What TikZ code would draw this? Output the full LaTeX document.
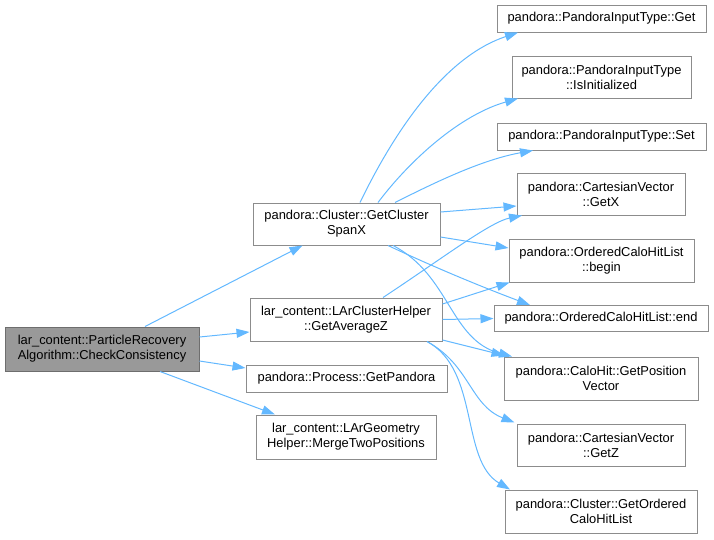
\documentclass[tikz,border=0pt]{standalone}
\usepackage{fontspec}
\setmainfont{Liberation Sans}
\usetikzlibrary{arrows.meta,calc}
\definecolor{edgec}{RGB}{99,184,255}
\definecolor{boxc}{RGB}{140,140,140}
\definecolor{rootc}{RGB}{153,153,153}
\definecolor{rootb}{RGB}{110,110,110}
\tikzset{
  box/.style={draw=boxc, line width=1pt, fill=white, align=center, inner sep=0pt,
    font=\fontsize{12.9}{15}\selectfont},
  rootbox/.style={box, fill=rootc, draw=rootb},
  edge/.style={draw=edgec, line width=1pt, -{Triangle[length=13pt,width=9pt]}}
}
\begin{document}
\begin{tikzpicture}[x=1pt,y=-1pt]
\useasboundingbox (0,0) rectangle (714,539);
% left and middle
\node[rootbox, minimum width=194pt, minimum height=44pt] (root) at (102,349) {lar\_content::ParticleRecovery\\Algorithm::CheckConsistency};
\node[box, minimum width=187pt, minimum height=42pt] (span) at (346.5,224) {pandora::Cluster::GetCluster\\SpanX};
\node[box, minimum width=192pt, minimum height=43pt] (avgz) at (346,319.5) {lar\_content::LArClusterHelper\\::GetAverageZ};
\node[box, minimum width=201pt, minimum height=27pt] (pand) at (346.5,378.5) {pandora::Process::GetPandora};
\node[box, minimum width=180pt, minimum height=44pt] (merge) at (346,437) {lar\_content::LArGeometry\\Helper::MergeTwoPositions};
% right column
\node[box, minimum width=209pt, minimum height=27pt] (get) at (601.5,18.5) {pandora::PandoraInputType::Get};
\node[box, minimum width=179pt, minimum height=42pt] (isinit) at (601.5,77) {pandora::PandoraInputType\\::IsInitialized};
\node[box, minimum width=209pt, minimum height=27pt] (set) at (601.5,136.5) {pandora::PandoraInputType::Set};
\node[box, minimum width=168pt, minimum height=42pt] (getx) at (601,194) {pandora::CartesianVector\\::GetX};
\node[box, minimum width=185pt, minimum height=43pt] (begin) at (601.5,260.5) {pandora::OrderedCaloHitList\\::begin};
\node[box, minimum width=214pt, minimum height=26pt] (end) at (601,318.5) {pandora::OrderedCaloHitList::end};
\node[box, minimum width=194pt, minimum height=43pt] (gpv) at (601,378.5) {pandora::CaloHit::GetPosition\\Vector};
\node[box, minimum width=168pt, minimum height=42pt] (getz) at (601,445) {pandora::CartesianVector\\::GetZ};
\node[box, minimum width=192pt, minimum height=43pt] (gochl) at (601,511.5) {pandora::Cluster::GetOrdered\\CaloHitList};
% root edges
\draw[edge] ($(root.north)+(43,0)$) -- ($(span.south)+(-44,0)$);
\draw[edge] ($(root.east)+(0,-12)$) -- ($(avgz.west)+(0,12.5)$);
\draw[edge] ($(root.east)+(0,12)$) -- ($(pand.west)+(0,-10.5)$);
\draw[edge] ($(root.south)+(58,0)$) -- ($(merge.north)+(-71,0)$);
% span edges
\draw[edge] ($(span.north)+(13.5,0)$) .. controls (400,120) and (450,55) .. ($(get.south)+(-83.5,0)$);
\draw[edge] ($(span.north)+(31.5,0)$) .. controls (410,160) and (460,115) .. ($(isinit.south)+(-83.5,0)$);
\draw[edge] ($(span.north)+(48.5,0)$) .. controls (430,185) and (480,160) .. ($(set.south)+(-68.5,0)$);
\draw[edge] ($(span.east)+(0,-12)$) -- ($(getx.west)+(0,12)$);
\draw[edge] ($(span.east)+(0,13)$) -- ($(begin.west)+(0,-12.5)$);
\draw[edge] ($(span.south)+(41.5,0)$) .. controls (440,270) and (490,290) .. ($(end.north)+(-71,0)$);
\draw[edge] ($(span.south)+(46.5,0)$) .. controls (450,275) and (450,340) .. ($(gpv.north)+(-89,0)$);
% avgz edges
\draw[edge] ($(avgz.north)+(37,0)$) .. controls (440,260) and (490,222) .. ($(getx.south)+(-79,0)$);
\draw[edge] ($(avgz.east)+(0,-15.5)$) -- ($(begin.south west)+(1,0)$);
\draw[edge] (avgz.east) -- (end.west);
\draw[edge] ($(avgz.east)+(0,20.5)$) -- ($(gpv.north west)+(1,-1)$);
\draw[edge] ($(avgz.south)+(81,0)$) .. controls (470,365) and (470,405) .. ($(getz.north west)+(-2,-1)$);
\draw[edge] ($(avgz.south)+(81,0)$) .. controls (480,370) and (460,460) .. ($(gochl.north)+(-91,0)$);
\end{tikzpicture}
\end{document}
